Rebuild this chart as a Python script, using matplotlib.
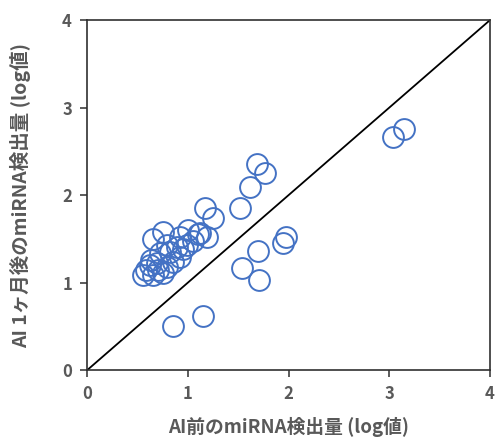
import matplotlib
matplotlib.use("Agg")
import matplotlib.pyplot as plt

plt.rcParams['font.family'] = ['Noto Sans CJK JP', 'DejaVu Sans']

x_before = [3.04, 3.15, 1.97, 1.94, 1.70, 1.54, 1.71, 0.85, 1.15,
            1.69, 1.77, 1.62, 1.52, 1.17, 1.25, 1.00, 0.92, 1.12, 1.19,
            0.79, 0.89, 0.99, 0.72, 0.63, 0.69, 0.58, 0.55, 0.65, 0.75,
            0.79, 0.85, 0.92, 0.65, 0.75, 1.05, 1.10, 0.95, 0.70, 0.62, 0.82]
y_after = [2.66, 2.76, 1.52, 1.45, 1.36, 1.17, 1.03, 0.50, 0.62,
           2.35, 2.25, 2.09, 1.85, 1.85, 1.74, 1.60, 1.52, 1.57, 1.52,
           1.43, 1.41, 1.43, 1.34, 1.26, 1.22, 1.14, 1.09, 1.09, 1.11,
           1.18, 1.24, 1.29, 1.50, 1.58, 1.48, 1.55, 1.38, 1.15, 1.20, 1.35]
ticks = [0, 1, 2, 3, 4]
xlabel = 'AI前のmiRNA検出量 (log値)'
ylabel = 'AI 1ヶ月後のmiRNA検出量 (log値)'

fig = plt.figure(figsize=(5.01, 4.37), dpi=100)
ax = fig.add_axes([0.174, 0.153, 0.804, 0.801])
ax.plot([0, 4], [0, 4], color='black', lw=1.3, zorder=1)
ax.plot(x_before, y_after, linestyle='none', marker='o', markersize=15,
        markerfacecolor='none', markeredgecolor='#4472C4', markeredgewidth=1.4, zorder=2)
ax.set_xlim(0, 4)
ax.set_ylim(0, 4)
ax.set_xticks(ticks)
ax.set_yticks(ticks)
ax.tick_params(direction='out', length=5, width=1.2, color='#404040',
               labelsize=12, labelcolor='#595959', pad=6)
for lab in ax.get_xticklabels() + ax.get_yticklabels():
    lab.set_fontweight('bold')
for s in ax.spines.values():
    s.set_linewidth(1.2)
    s.set_color('#303030')
ax.set_xlabel(xlabel, fontsize=13.5, color='#595959', labelpad=10, fontweight='bold')
ax.set_ylabel(ylabel, fontsize=14, color='#595959', labelpad=22, fontweight='bold')
fig.savefig('out.png', dpi=100)
